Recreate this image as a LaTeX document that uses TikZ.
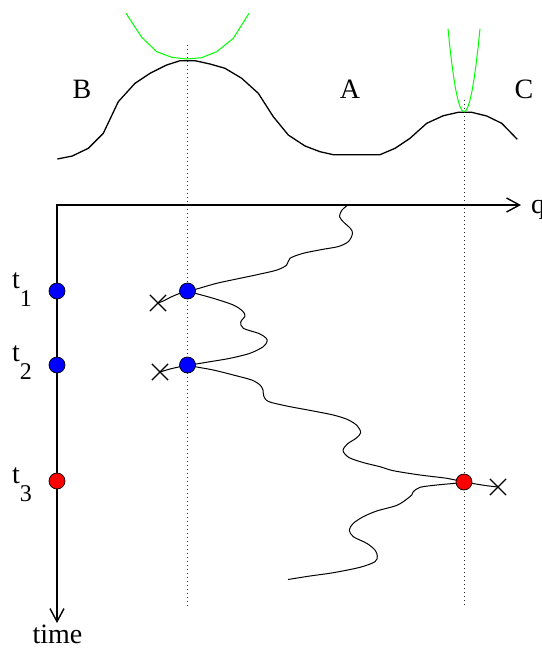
\documentclass[tikz,border=0pt]{standalone}
\usepackage{fontspec}
\setmainfont{Liberation Serif}
\usetikzlibrary{arrows.meta,shapes.misc,backgrounds}
\definecolor{fgreen}{RGB}{0,255,0}
\newcommand{\tlab}[1]{\fontsize{28}{30}\selectfont t\raisebox{-18pt}{\fontsize{24}{26}\selectfont #1}}
\begin{document}
\begin{tikzpicture}[x=1pt,y=-1pt,
 dot/.style={circle,draw=black,line width=0.7pt,minimum size=16pt,inner sep=0pt},
 bluedot/.style={dot,fill=blue},
 reddot/.style={dot,fill=red},
 xmark/.style={cross out,draw=black,line width=1.2pt,minimum size=15pt,inner sep=0pt},
 lbl/.style={font=\fontsize{28}{30}\selectfont,inner sep=0pt,anchor=base},
 tl/.style={inner sep=0pt,anchor=base west},
 pot/.style={line width=1.3pt,line join=round},
 wig/.style={line width=1pt,line join=round},
 axisline/.style={line width=1.4pt,{Straight Barb[length=13pt,width=14pt]}-{Straight Barb[length=13pt,width=14pt]}},
 guide/.style={line width=1pt,dash pattern=on 1.2pt off 2.8pt,black!85},
 harm/.style={draw=fgreen,line width=1pt,line join=round}]
\useasboundingbox (0,0) rectangle (541,648);

% axes ends
\coordinate (O) at (57,205);
\coordinate (qend) at (521,205);
\coordinate (tend) at (57,623);
\coordinate (s0) at (348,205);
\coordinate (e0) at (288,579.5);

% dots and crosses
\node[bluedot] (a1) at (57,291) {};
\node[bluedot] (a2) at (57,365) {};
\node[reddot] (a3) at (57,481) {};
\node[bluedot] (b1) at (187.5,291) {};
\node[bluedot] (b2) at (187.5,365) {};
\node[reddot] (c3) at (464,482) {};
\node[xmark] (x1) at (158,303) {};
\node[xmark] (x2) at (160,372) {};
\node[xmark] (x3) at (498,487) {};

% labels
\node[lbl] (lB) at (82,98) {B};
\node[lbl] (lA) at (350,98) {A};
\node[lbl] (lC) at (524,98) {C};
\node[lbl,anchor=base west] (lq) at (531,213) {q};
\node[lbl] (ltime) at (57.5,643) {time};
\node[tl] (l1) at (12,288) {\tlab{1}};
\node[tl] (l2) at (12,361.5) {\tlab{2}};
\node[tl] (l3) at (12,483) {\tlab{3}};

\begin{scope}[on background layer]
% potential
\draw[pot] (57.3,159) -- (72.3,156) -- (88.3,148.3) -- (103.3,133.3) -- (118.3,101.7) -- (135,83.3) -- (150,73.3) -- (166.7,65) -- (180,60.7) -- (195,60.7) -- (210,64) -- (225,68.3) -- (241.7,78.3) -- (258.3,93.3) -- (273.3,116.7) -- (288.3,135) -- (305,146) -- (320,151.7) -- (333.3,154.7) -- (380,154.7) -- (395,148.3) -- (410,138.3) -- (426.7,123.3) -- (443.3,115.7) -- (458.3,112.3) -- (471.7,112.3) -- (486.7,116) -- (501.7,123.3) -- (517.3,139.3);
% harmonic approximations
\draw[harm] (126,13.3) -- (141.7,37.3) -- (156.7,51.7) -- (171.7,57.3) -- (186.7,59) -- (201.7,57.7) -- (216.7,51.7) -- (233.3,38.3) -- (249,13.3);
\draw[harm] plot[domain=-16:16,samples=17] ({464+\x},{111.7-83*(\x/16)^2});
% guide lines
\draw[guide] (187.5,45) -- (187.5,606);
\draw[guide] (464,100) -- (464,606);
% axes
\draw[axisline] (tend) -- (O) -- (qend);
% trajectory
\draw[wig] plot[smooth,tension=0.5] coordinates {(s0) (342,210) (339.5,216.5) (343.5,222) (350.5,228.5) (352.5,233.5) (348.5,241.5) (338.5,246.5) (323,249.3) (303.3,253.3) (290,258.3) (286.7,265) (277,270) (258,274.5) (240,278.3) (216.7,283.3) (196.7,289) (b1.center)};
\draw[wig] plot[smooth,tension=0.5] coordinates {(b1.center) (180,293.3) (171.7,296.7) (163.3,301) (x1.center)};
\draw[wig] plot[smooth,tension=0.5] coordinates {(b1.center) (196,293.5) (214,298.5) (233.3,305) (242.5,311) (245,316) (240.7,322) (243.3,328.3) (259,333.5) (266,338) (267,341.5) (263.3,346.7) (250,353.3) (230,358.3) (210,361.7) (196,364) (b2.center)};
\draw[wig] plot[smooth,tension=0.5] coordinates {(b2.center) (180,366.7) (170,369) (x2.center)};
\draw[wig] plot[smooth,tension=0.5] coordinates {(b2.center) (195,366.7) (213.3,370) (233.3,375) (251.7,380) (260,385) (263,390) (263.7,396) (268.5,401.5) (286.7,406) (313.3,411) (333.3,415) (347.5,419.5) (357,425.5) (360.7,432.7) (356,438.3) (347.3,444) (343,450.7) (349,457.5) (363,462.5) (380,466.7) (393.3,470.7) (420,475) (446.7,478.3) (c3.center)};
\draw[wig] plot[smooth,tension=0.5] coordinates {(c3.center) (471.7,483.3) (486.7,485.7) (x3.center)};
\draw[wig] plot[smooth,tension=0.5] coordinates {(c3.center) (455,483.3) (436.7,485) (420,487.3) (413.3,491.7) (411.7,495) (403.3,501.7) (395,506) (376.7,511) (363.3,516.7) (353.3,523.3) (349.3,530) (353.3,536.7) (366.7,543.3) (375,550) (377.3,556) (375,561.7) (360,567.3) (333.3,572.7) (310,576) (e0)};
\end{scope}
\end{tikzpicture}
\end{document}
